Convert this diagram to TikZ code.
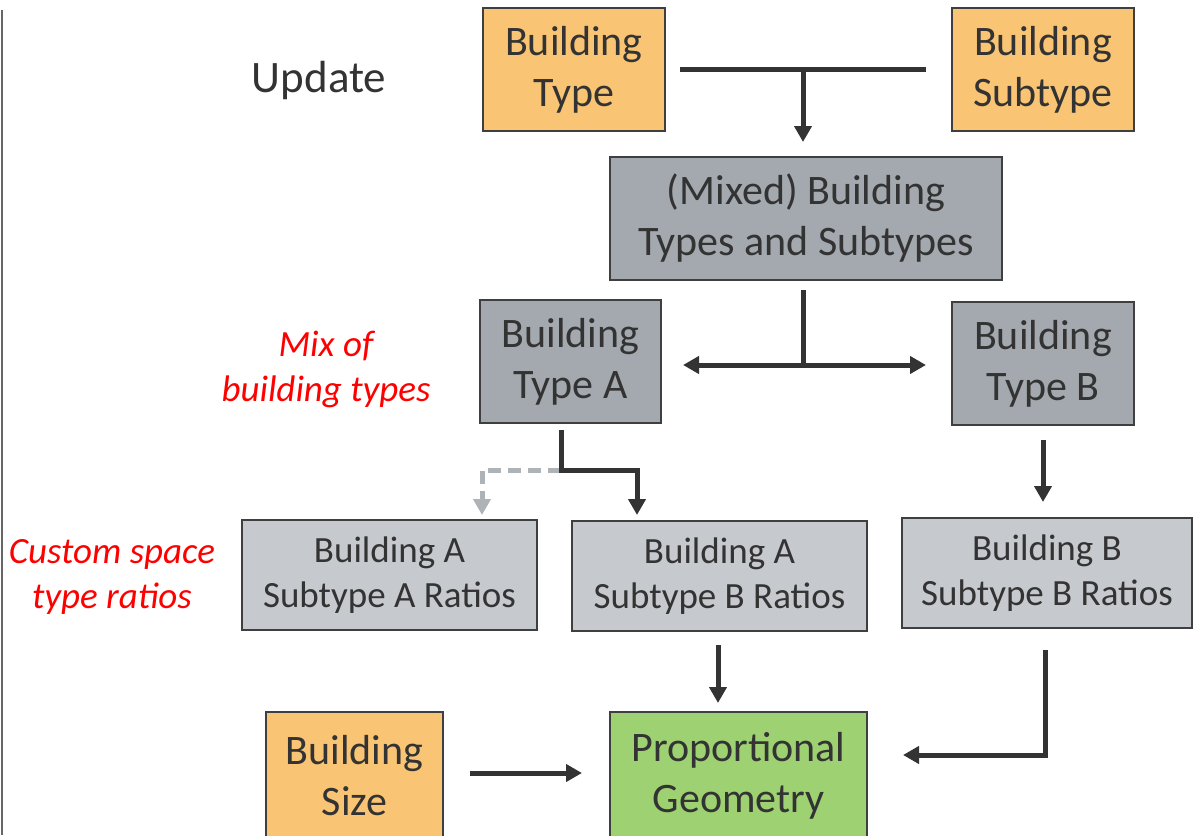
\documentclass[tikz,border=0pt]{standalone}
\usepackage{fontspec}
\setmainfont{Carlito}
\usetikzlibrary{arrows.meta}
\definecolor{orangebox}{HTML}{F9C574}
\definecolor{darkbox}{HTML}{A3A9AE}
\definecolor{lightbox}{HTML}{C6C9CD}
\definecolor{greenbox}{HTML}{9DD172}
\definecolor{edge}{HTML}{3F3F3F}
\definecolor{txt}{HTML}{333333}
\definecolor{dashgrey}{HTML}{AEB3B8}
\definecolor{redtxt}{HTML}{FF0000}
\tikzset{
  box/.style={draw=edge, line width=1.6pt, inner sep=0pt, align=center, text=txt},
  bigbox/.style={box, font=\fontsize{42}{51}\selectfont},
  smallbox/.style={box, font=\fontsize{37}{45}\selectfont},
  conn/.style={draw=txt, line width=5pt},
  arr/.style={conn, -{Triangle[width=17pt,length=16pt]}},
  darr/.style={conn, {Triangle[width=17pt,length=16pt]}-{Triangle[width=17pt,length=16pt]}},
  dasharr/.style={draw=dashgrey, line width=5pt, dash pattern=on 13pt off 7pt, -{Triangle[width=17pt,length=16pt]}},
  redlabel/.style={text=redtxt, font=\fontsize{37}{45}\selectfont\itshape, align=center, inner sep=0pt},
}
\begin{document}
\begin{tikzpicture}[x=1pt,y=-1pt]
\useasboundingbox[fill=white] (0,0) rectangle (1193,835);
\draw[draw=gray!80!black, line width=2pt] (1.5,10) -- (1.5,835);

\node[inner sep=0pt, text=txt, font=\fontsize{45}{52}\selectfont] (upd) at (319,81) {Update};

\node[bigbox, fill=orangebox, minimum width=182pt, minimum height=123pt] (bt) at (574,69.5) {Building\\Type};
\node[bigbox, fill=orangebox, minimum width=182pt, minimum height=123pt] (bst) at (1043,69.5) {Building\\Subtype};
\node[bigbox, fill=darkbox, minimum width=392pt, minimum height=123pt] (mixed) at (806,218.5) {(Mixed) Building\\Types and Subtypes};
\node[bigbox, fill=darkbox, minimum width=181pt, minimum height=123pt] (ta) at (570.5,361.5) {Building\\Type A};
\node[bigbox, fill=darkbox, minimum width=182pt, minimum height=123pt] (tb) at (1043,363.5) {Building\\Type B};
\node[smallbox, fill=lightbox, minimum width=295pt, minimum height=110pt] (raa) at (389.5,575) {Building A\\Subtype A Ratios};
\node[smallbox, fill=lightbox, minimum width=295pt, minimum height=110pt] (rab) at (719.5,576) {Building A\\Subtype B Ratios};
\node[smallbox, fill=lightbox, minimum width=290pt, minimum height=110pt] (rbb) at (1047,573) {Building B\\Subtype B Ratios};
\node[bigbox, fill=orangebox, minimum width=177pt, minimum height=128pt] (size) at (354.5,776) {Building\\Size};
\node[bigbox, fill=greenbox, minimum width=257pt, minimum height=128pt] (geo) at (738.5,776) {Proportional\\Geometry};

\node[redlabel] (mix) at (326,369) {Mix of\\building types};
\node[redlabel] (custom) at (112,577) {Custom space\\type ratios};

% connectors
\coordinate (tl) at (680,69);
\coordinate (tr) at (926,69);
\coordinate (tj) at (803,69);
\coordinate (mtip) at (803,142);
\draw[conn] (tl) -- (tr);
\draw[arr] (tj) -- (mtip);

\coordinate (mb) at (803,290);
\coordinate (mj) at (803,365);
\coordinate (al) at (683,365);
\coordinate (ar) at (926,365);
\draw[conn] (mb) -- (mj);
\draw[darr] (al) -- (ar);

\coordinate (tab) at (561,430);
\coordinate (taj) at (561,470);
\coordinate (tabr) at (637,470);
\coordinate (tabtip) at (637,515);
\coordinate (taal) at (482,470);
\coordinate (taatip) at (482,515);
\draw[dasharr] (taj) -- (taal) -- (taatip);
\draw[arr] (tab) -- (taj) -- (tabr) -- (tabtip);

\coordinate (tbb) at (1043,440);
\coordinate (tbtip) at (1043,502);
\draw[arr] (tbb) -- (tbtip);

\coordinate (rabb) at (718,645);
\coordinate (rabtip) at (718,703);
\draw[arr] (rabb) -- (rabtip);

\coordinate (rbbb) at (1045,650);
\coordinate (rbbc) at (1045,755);
\coordinate (rbbtip) at (903,755);
\draw[arr] (rbbb) -- (rbbc) -- (rbbtip);

\coordinate (szr) at (470,773);
\coordinate (sztip) at (582,773);
\draw[arr] (szr) -- (sztip);
\end{tikzpicture}
\end{document}
